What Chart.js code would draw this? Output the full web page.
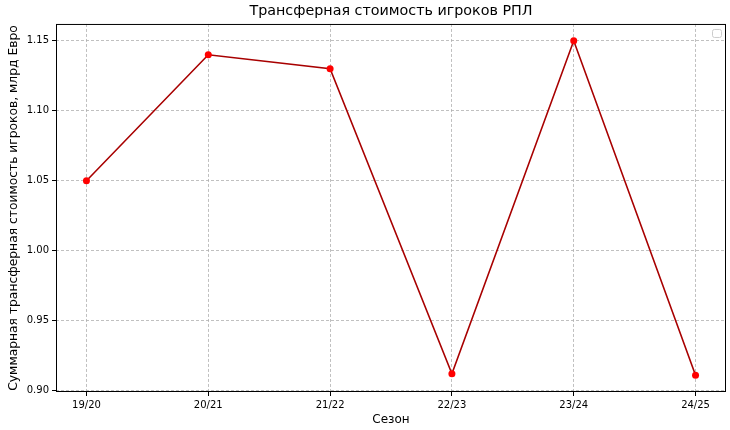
<!DOCTYPE html>
<html>
<head>
<meta charset="utf-8">
<script src="https://cdn.jsdelivr.net/npm/chart.js@4/dist/chart.umd.min.js"></script>
<style>
  html, body { margin: 0; padding: 0; background: #fff; }
  canvas { display: block; }
</style>
</head>
<body>
<canvas id="chart" width="730" height="430"></canvas>
<script>
// Transfer value of RPL players by season (bn EUR)
const seasons = ['19/20', '20/21', '21/22', '22/23', '23/24', '24/25'];
const values = [1.05, 1.14, 1.13, 0.912, 1.15, 0.911];
const yTicks = [0.90, 0.95, 1.00, 1.05, 1.10, 1.15];

const FONT = 'DejaVu Sans';

// Frame around the plot + empty legend box, like matplotlib
const framePlugin = {
  id: 'frame',
  afterDraw(chart) {
    const { ctx, chartArea: a } = chart;
    ctx.save();
    ctx.strokeStyle = '#000';
    ctx.lineWidth = 1;
    ctx.setLineDash([]);
    ctx.strokeRect(a.left + 0.5, a.top + 0.5, a.right - a.left - 1, a.bottom - a.top - 1);

    // empty legend
    const w = 9, h = 8, x = a.right - 14, y = a.top + 5, r = 2;
    ctx.beginPath();
    ctx.roundRect(x + 0.5, y + 0.5, w, h, r);
    ctx.fillStyle = 'rgba(255,255,255,0.8)';
    ctx.fill();
    ctx.strokeStyle = '#cccccc';
    ctx.stroke();
    ctx.restore();
  },
};

const ctx = document.getElementById('chart').getContext('2d');
new Chart(ctx, {
  type: 'line',
  data: {
    datasets: [
      {
        data: values.map((v, i) => ({ x: i, y: v })),
        borderColor: '#a80000',
        borderWidth: 1.6,
        pointBackgroundColor: '#ff0000',
        pointBorderColor: '#ff0000',
        pointRadius: 3.5,
        pointBorderWidth: 0,
        tension: 0,
      },
    ],
  },
  options: {
    responsive: false,
    animation: false,
    layout: { padding: { left: 0, right: 4, top: 0, bottom: 0 } },
    plugins: {
      legend: { display: false },
      tooltip: { enabled: false },
      title: {
        display: true,
        fullSize: false,
        text: 'Трансферная стоимость игроков РПЛ',
        color: '#000',
        font: { family: FONT, size: 14.3, weight: 'normal', lineHeight: 1.2 },
        padding: { top: 3, bottom: 3.8 },
      },
    },
    scales: {
      x: {
        type: 'linear',
        min: -0.25,
        max: 5.25,
        afterBuildTicks: (scale) => {
          scale.ticks = seasons.map((s, i) => ({ value: i }));
        },
        afterFit: (scale) => {
          scale.height = 38;
        },
        ticks: {
          color: '#000',
          padding: 3,
          maxRotation: 0,
          font: { family: FONT, size: 10 },
          callback: (v) => seasons[v],
        },
        grid: {
          color: '#b0b0b0',
          lineWidth: 0.8,
          tickColor: '#000',
          tickLength: 4,
          tickWidth: 1,
          tickBorderDash: [],
        },
        border: { display: false, dash: [3, 2] },
        title: {
          display: true,
          text: 'Сезон',
          color: '#000',
          font: { family: FONT, size: 12, lineHeight: 1.2 },
          padding: { top: 0, bottom: 3 },
        },
      },
      y: {
        type: 'linear',
        min: 0.899,
        max: 1.162,
        afterBuildTicks: (scale) => {
          scale.ticks = yTicks.map((v) => ({ value: v }));
        },
        afterFit: (scale) => {
          scale.width = 56;
        },
        ticks: {
          color: '#000',
          padding: 3,
          font: { family: FONT, size: 10 },
          callback: (v) => v.toFixed(2),
        },
        grid: {
          color: '#b0b0b0',
          lineWidth: 0.8,
          tickColor: '#000',
          tickLength: 4,
          tickWidth: 1,
          tickBorderDash: [],
        },
        border: { display: false, dash: [3, 2] },
        title: {
          display: true,
          text: 'Суммарная трансферная стоимость игроков, млрд Евро',
          color: '#000',
          font: { family: FONT, size: 12.3, lineHeight: 1.2 },
          padding: { top: 6, bottom: 0 },
        },
      },
    },
  },
  plugins: [framePlugin],
});
</script>
</body>
</html>
